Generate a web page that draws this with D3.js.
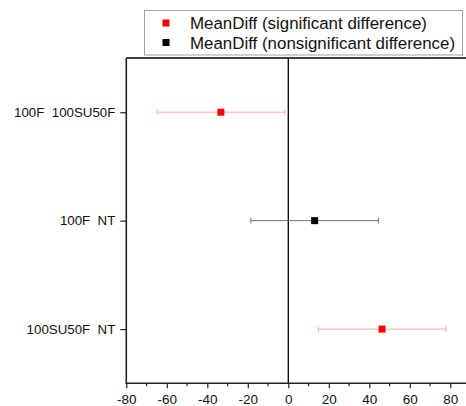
<!DOCTYPE html>
<html>
<head>
<meta charset="utf-8">
<script src="https://cdn.jsdelivr.net/npm/d3@7"></script>
<style>
  html, body { margin: 0; padding: 0; background: #fff; overflow: hidden; }
  text { font-family: "Liberation Sans", Arial, sans-serif; white-space: pre; }
</style>
</head>
<body>
<svg id="chart" width="466" height="406"></svg>
<script>
// Pairwise comparisons (mean difference with confidence interval)
const comparisons = ["100F  100SU50F", "100F  NT", "100SU50F  NT"];
const meanDiff = [-33.3, 13.0, 46.3];
const lowerCI = [-64.8, -18.5, 14.8];
const upperCI = [-1.7, 44.5, 77.8];
const significant = [true, false, true];
const xTicks = [-80, -60, -40, -20, 0, 20, 40, 60, 80];
const xMinorTicks = [-70, -50, -30, -10, 10, 30, 50, 70];
const legendLabels = ["MeanDiff (significant difference)", "MeanDiff (nonsignificant difference)"];

const svg = d3.select("#chart");
const W = 466;
const plot = { left: 126.3, right: 450.3, top: 58, bottom: 383.3 };

const x = d3.scaleLinear().domain([-80, 80]).range([plot.left, plot.right]);
const y = d3.scalePoint().domain(comparisons).range([plot.top, plot.bottom]).padding(0.5);

const markerColor = s => s ? "#ff0000" : "#000000";
const barColor = s => s ? "#ffa8a8" : "#707070";

// frame: top edge
svg.append("line").attr("x1", plot.left).attr("x2", W + 2)
  .attr("y1", plot.top).attr("y2", plot.top)
  .attr("stroke", "#000").attr("stroke-width", 1.3);

// zero reference line
svg.append("line").attr("x1", x(0)).attr("x2", x(0))
  .attr("y1", plot.top).attr("y2", plot.bottom)
  .attr("stroke", "#000").attr("stroke-width", 1.3);

// y axis
const yAxis = d3.axisLeft(y).tickSize(6).tickSizeOuter(0).tickPadding(5);
const gy = svg.append("g").attr("transform", `translate(${plot.left},0)`).call(yAxis);
gy.select(".domain").remove();
gy.selectAll(".tick line").attr("stroke", "#222").attr("stroke-width", 1.2);
gy.selectAll(".tick text").attr("font-size", 13.3).attr("fill", "#111")
  .attr("xml:space", "preserve");
svg.append("line").attr("x1", plot.left).attr("x2", plot.left)
  .attr("y1", plot.top).attr("y2", plot.bottom)
  .attr("stroke", "#222").attr("stroke-width", 1.6);

// x axis with minor ticks
const xAxis = d3.axisBottom(x).tickValues(xTicks).tickSize(5).tickPadding(6).tickFormat(d3.format("d"));
const gx = svg.append("g").attr("transform", `translate(0,${plot.bottom})`).call(xAxis);
gx.select(".domain").remove();
gx.selectAll(".tick line").attr("stroke", "#222").attr("stroke-width", 1.2);
gx.selectAll(".tick text").attr("font-size", 13.5).attr("fill", "#111")
  .text(d => d < 0 ? "-" + Math.abs(d) : d);
gx.selectAll(".minor").data(xMinorTicks).enter().append("line")
  .attr("class", "minor")
  .attr("x1", d => x(d)).attr("x2", d => x(d))
  .attr("y1", 0).attr("y2", 3)
  .attr("stroke", "#222").attr("stroke-width", 1.2);
svg.append("line").attr("x1", plot.left - 0.8).attr("x2", W + 2)
  .attr("y1", plot.bottom).attr("y2", plot.bottom)
  .attr("stroke", "#222").attr("stroke-width", 1.6);

// error bars with caps, then mean markers
const rows = comparisons.map((c, i) => ({
  name: c, mean: meanDiff[i], lo: lowerCI[i], hi: upperCI[i], sig: significant[i]
}));
const g = svg.append("g");
g.selectAll(".bar").data(rows).enter().append("line")
  .attr("x1", d => x(d.lo)).attr("x2", d => x(d.hi))
  .attr("y1", d => y(d.name)).attr("y2", d => y(d.name))
  .attr("stroke", d => barColor(d.sig)).attr("stroke-width", 1);
["lo", "hi"].forEach(k => {
  g.selectAll(".cap-" + k).data(rows).enter().append("line")
    .attr("x1", d => x(d[k])).attr("x2", d => x(d[k]))
    .attr("y1", d => y(d.name) - 3).attr("y2", d => y(d.name) + 3)
    .attr("stroke", d => barColor(d.sig)).attr("stroke-width", 1);
});
const ms = 7;
g.selectAll(".pt").data(rows).enter().append("rect")
  .attr("x", d => x(d.mean) - ms / 2).attr("y", d => y(d.name) - ms / 2)
  .attr("width", ms).attr("height", ms)
  .attr("fill", d => markerColor(d.sig));

// legend
const lg = svg.append("g");
lg.append("rect").attr("x", 144.5).attr("y", 10.5).attr("width", 318).attr("height", 44.5)
  .attr("fill", "#fff").attr("stroke", "#a0a0a0").attr("stroke-width", 1);
legendLabels.forEach((t, i) => {
  const cy = 23 + i * 19.5;
  lg.append("rect").attr("x", 166 - 3.5).attr("y", cy - 3.5).attr("width", 7).attr("height", 7)
    .attr("fill", i === 0 ? "#ff0000" : "#000");
  lg.append("text").attr("x", 190).attr("y", cy).attr("dy", "0.36em")
    .attr("font-size", 16.9).attr("fill", "#111").text(t);
});
</script>
</body>
</html>
